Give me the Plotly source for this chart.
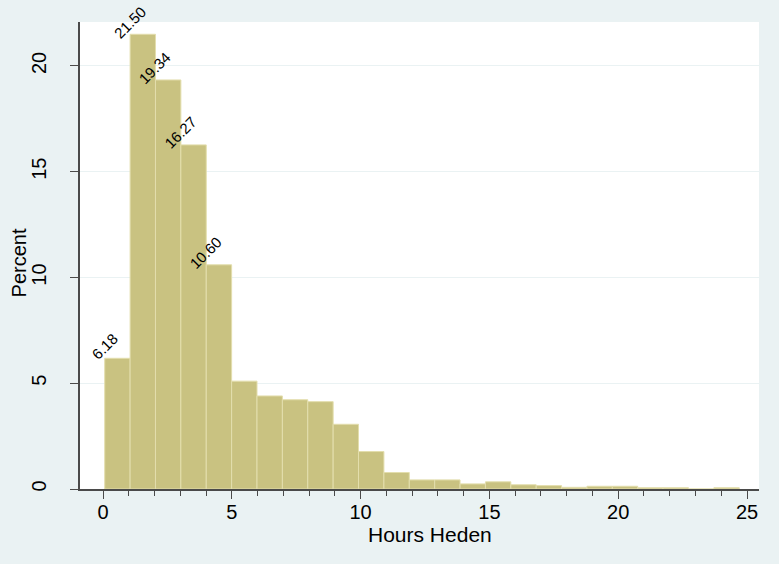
import plotly.graph_objects as go

# Histogram of hours (percent per bin)
bin_start = 0.0667
bin_width = 0.9853
pct = [6.18, 21.50, 19.34, 16.27, 10.60, 5.10, 4.40, 4.22, 4.13, 3.06,
       1.77, 0.78, 0.43, 0.43, 0.24, 0.34, 0.20, 0.16, 0.08, 0.13,
       0.13, 0.06, 0.06, 0.00, 0.06]
label_min = 6.0          # bars taller than this get a value label
x_ticks = [0, 5, 10, 15, 20, 25]
y_ticks = [0, 5, 10, 15, 20]

centers = [bin_start + (i + 0.5) * bin_width for i in range(len(pct))]

FILL = "#C9C281"
EDGE = "#E3DEAD"
BG = "#EAF2F3"
AXIS = "#4A4A4A"
FONT = "Liberation Sans, Arial, sans-serif"

fig = go.Figure()
fig.add_trace(go.Bar(
    x=centers, y=pct, width=bin_width,
    marker=dict(color=FILL, line=dict(color=EDGE, width=1)),
    hoverinfo="x+y",
))

# Rotated value labels above the tallest bars
for c, v in zip(centers, pct):
    if v > label_min:
        fig.add_annotation(
            x=c, y=v, xref="x", yref="y", text=f"{v:.2f}",
            showarrow=False, textangle=-45,
            xanchor="center", yanchor="middle",
            xshift=-13, yshift=12,
            font=dict(family=FONT, size=15, color="black"),
        )

# Axis titles
fig.add_annotation(x=0.515, y=-0.097, xref="paper", yref="paper",
                   text="Hours Heden", showarrow=False,
                   xanchor="center", yanchor="middle",
                   font=dict(family=FONT, size=21, color="black"))
fig.add_annotation(x=-0.09, y=0.485, xref="paper", yref="paper",
                   text="Percent", showarrow=False, textangle=-90,
                   xanchor="center", yanchor="middle",
                   font=dict(family=FONT, size=20, color="black"))

fig.update_layout(
    width=779, height=564,
    margin=dict(l=80, r=20, t=22, b=75),
    paper_bgcolor=BG, plot_bgcolor="white",
    showlegend=False,
    font=dict(family=FONT, size=20, color="black"),
    xaxis=dict(
        range=[-0.893, 25.466], tickmode="array", tickvals=x_ticks,
        ticks="outside", ticklen=8, tickwidth=1, tickcolor=AXIS,
        showline=True, linecolor=AXIS, linewidth=2,
        showgrid=False, zeroline=False,
        minor=dict(dtick=1, tick0=0, ticks="outside", ticklen=5,
                   tickwidth=1, tickcolor=AXIS, showgrid=False),
        ticklabelstandoff=-4,
        tickfont=dict(family=FONT, size=20, color="black"),
    ),
    yaxis=dict(
        range=[0, 22.08], tickmode="array", tickvals=y_ticks,
        ticks="outside", ticklen=8, tickwidth=1, tickcolor=AXIS,
        showline=True, linecolor=AXIS, linewidth=2,
        showgrid=True, gridcolor=BG, gridwidth=1, zeroline=False,
        tickangle=-90, ticklabelstandoff=16,
        tickfont=dict(family=FONT, size=20, color="black"),
    ),
)

fig.write_html("out.html")
